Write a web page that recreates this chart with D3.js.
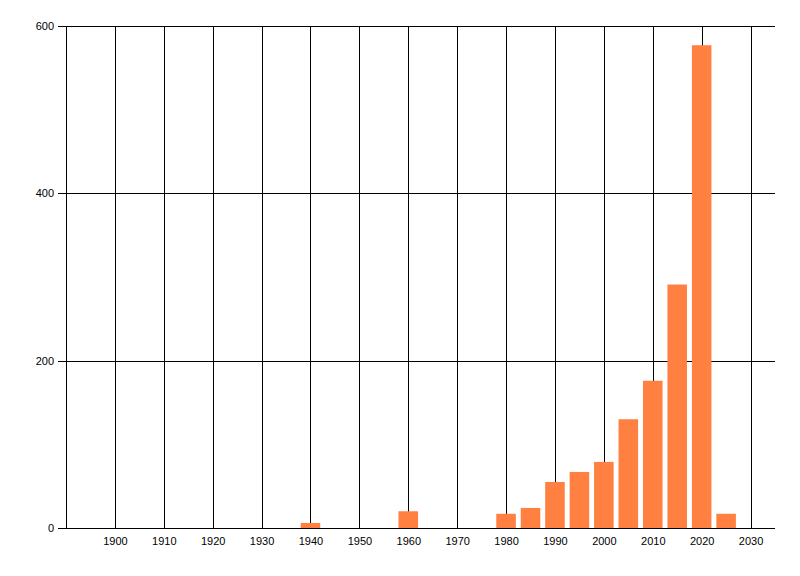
<!DOCTYPE html>
<html>
<head>
<meta charset="utf-8">
<script src="https://cdn.jsdelivr.net/npm/d3@7"></script>
<style>
  body { margin: 0; background: #fff; }
  text { font-family: "Liberation Sans", Arial, sans-serif; font-size: 11px; fill: #000; }
</style>
</head>
<body>
<div id="chart"></div>
<script>
// data
var years  = [1940, 1960, 1980, 1985, 1990, 1995, 2000, 2005, 2010, 2015, 2020, 2025];
var counts = [6, 20, 17, 24, 55, 67, 79, 130, 176, 291, 577, 17];
var xTicks = [1900, 1910, 1920, 1930, 1940, 1950, 1960, 1970, 1980, 1990, 2000, 2010, 2020, 2030];
var yTicks = [0, 200, 400, 600];

var width = 800;
var height = 576;
var margin = {top: 26, right: 25, bottom: 48, left: 66};
var barYears = 4;

var svg = d3.select('#chart').append('svg')
    .attr('width', width)
    .attr('height', height);

var x = d3.scaleLinear()
    .domain([1890, 2035])
    .range([margin.left, width - margin.right]);

var y = d3.scaleLinear()
    .domain([0, 600])
    .range([height - margin.bottom, margin.top]);

// vertical grid
svg.append('g').selectAll('line')
    .data(xTicks)
  .enter().append('line')
    .attr('x1', function (d) { return Math.round(x(d)) + 0.5; })
    .attr('x2', function (d) { return Math.round(x(d)) + 0.5; })
    .attr('y1', y(600))
    .attr('y2', y(0))
    .attr('stroke', '#000')
    .attr('shape-rendering', 'crispEdges');

// horizontal grid (sticks out left as a tick)
svg.append('g').selectAll('line')
    .data(yTicks)
  .enter().append('line')
    .attr('x1', margin.left - 8)
    .attr('x2', width - margin.right)
    .attr('y1', function (d) { return Math.round(y(d)) + 0.5; })
    .attr('y2', function (d) { return Math.round(y(d)) + 0.5; })
    .attr('stroke', '#000')
    .attr('shape-rendering', 'crispEdges');

// left axis line
svg.append('line')
    .attr('x1', margin.left + 0.5)
    .attr('x2', margin.left + 0.5)
    .attr('y1', y(600))
    .attr('y2', y(0))
    .attr('stroke', '#000')
    .attr('shape-rendering', 'crispEdges');

// bars
svg.append('g').selectAll('rect')
    .data(years)
  .enter().append('rect')
    .attr('x', function (d) { return x(d - barYears / 2); })
    .attr('width', x(barYears) - x(0))
    .attr('y', function (d, i) { return y(counts[i]); })
    .attr('height', function (d, i) { return y(0) - y(counts[i]); })
    .attr('fill', '#ff8040');

// labels
var xAxis = svg.append('g')
    .attr('transform', 'translate(0,' + y(0) + ')')
    .call(d3.axisBottom(x).tickValues(xTicks).tickFormat(d3.format('d')).tickSize(0).tickPadding(9));
xAxis.select('.domain').remove();

var yAxis = svg.append('g')
    .attr('transform', 'translate(' + margin.left + ',0)')
    .call(d3.axisLeft(y).tickValues(yTicks).tickSize(0).tickPadding(12));
yAxis.select('.domain').remove();

svg.selectAll('.tick text')
    .attr('fill', '#000')
    .style('font-family', '"Liberation Sans", Arial, sans-serif')
    .style('font-size', '11px');
</script>
</body>
</html>
